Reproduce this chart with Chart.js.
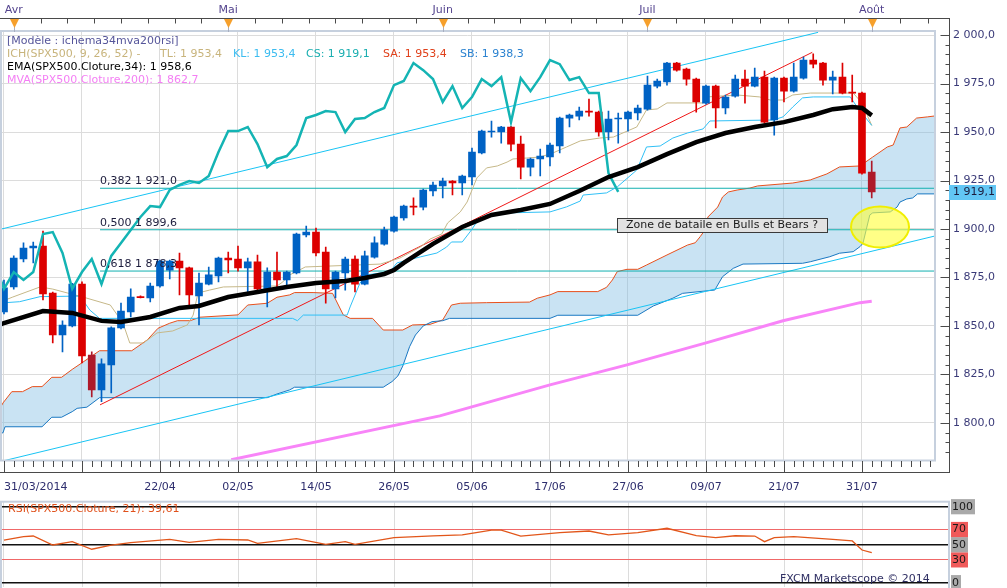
<!DOCTYPE html>
<html>
<head>
<meta charset="utf-8">
<script src="https://cdn.jsdelivr.net/npm/chart.js@4.4.1/dist/chart.umd.min.js"></script>
<style>
html, body { margin: 0; padding: 0; background: #fff; overflow: hidden; }
#main { position: absolute; left: 0; top: 0; width: 1007px; height: 500px; }
#rsi { position: absolute; left: 0; top: 495px; width: 1007px; height: 93px; }
</style>
</head>
<body>
<div id="main"><canvas id="priceCanvas"></canvas></div>
<div id="rsi"><canvas id="rsiCanvas"></canvas></div>
<script>
// trading days, 31/03/2014 -> 01/08/2014
const dates = ['31/03','01/04','02/04','03/04','04/04','07/04','08/04','09/04','10/04','11/04','14/04','15/04','16/04','17/04','18/04','21/04','22/04','23/04','24/04','25/04','28/04','29/04','30/04',
  '01/05','02/05','05/05','06/05','07/05','08/05','09/05','12/05','13/05','14/05','15/05','16/05','19/05','20/05','21/05','22/05','23/05','26/05','27/05','28/05','29/05','30/05',
  '02/06','03/06','04/06','05/06','06/06','09/06','10/06','11/06','12/06','13/06','16/06','17/06','18/06','19/06','20/06','23/06','24/06','25/06','26/06','27/06','30/06',
  '01/07','02/07','03/07','04/07','07/07','08/07','09/07','10/07','11/07','14/07','15/07','16/07','17/07','18/07','21/07','22/07','23/07','24/07','25/07','28/07','29/07','30/07','31/07','01/08'];

const open = [1857.2,1870.1,1884.5,1890.2,1891.2,1867.0,1845.3,1850.0,1871.6,1835.0,1817.0,1829.9,1849.0,1857.2,1865.2,1864.4,1870.6,1878.8,1883.5,1879.9,
  1865.5,1871.6,1875.8,1885.0,1884.5,1879.9,1883.0,1869.1,1877.8,1873.7,1877.3,1896.9,1898.4,1888.1,1869.1,1877.3,1884.5,1871.6,1885.5,1892.2,
  1898.9,1905.7,1911.8,1911.3,1919.6,1922.2,1924.7,1923.7,1926.8,1939.2,1950.0,1950.0,1952.6,1943.8,1931.9,1936.1,1937.1,1942.8,1957.2,1958.2,
  1960.8,1960.3,1950.0,1956.7,1956.7,1959.8,1961.8,1973.7,1975.8,1985.6,1982.5,1977.3,1964.9,1973.7,1962.4,1968.5,1977.3,1973.7,1978.3,1956.2,
  1977.8,1971.1,1977.8,1987.1,1985.6,1976.8,1978.3,1970.6,1970.1,1929.4];
const high = [1873.7,1886.1,1892.8,1893.3,1898.9,1867.5,1852.6,1872.0,1872.7,1836.6,1833.0,1849.5,1861.8,1869.1,1865.5,1872.1,1884.0,1884.0,1887.6,1880.3,
  1877.3,1880.4,1885.5,1888.1,1891.2,1885.0,1886.6,1879.9,1888.1,1878.3,1897.9,1901.5,1900.5,1890.7,1878.3,1885.5,1886.1,1888.6,1895.9,1901.0,
  1906.7,1912.3,1916.0,1920.6,1924.2,1926.3,1925.0,1927.8,1941.7,1951.0,1955.7,1953.0,1953.0,1947.9,1936.5,1941.2,1944.3,1957.7,1959.3,1962.9,
  1967.0,1960.8,1960.8,1959.8,1960.8,1963.9,1978.9,1977.3,1986.0,1986.0,1983.0,1977.8,1974.2,1974.2,1969.1,1979.4,1981.9,1983.0,1981.4,1978.3,
  1978.3,1985.6,1988.7,1990.3,1986.0,1981.4,1985.6,1979.4,1970.6,1935.0];
const low = [1856.2,1869.0,1883.0,1882.5,1863.4,1841.2,1836.6,1849.5,1830.9,1813.4,1811.0,1815.5,1848.5,1854.6,1864.4,1862.4,1870.0,1874.2,1866.0,1860.8,
  1850.5,1871.1,1872.7,1877.3,1878.3,1867.0,1867.5,1859.8,1869.6,1869.6,1876.8,1895.9,1886.1,1861.8,1864.4,1868.5,1867.5,1871.1,1885.0,1891.7,
  1898.4,1904.6,1907.2,1909.8,1917.0,1916.0,1917.5,1917.5,1922.7,1938.7,1947.4,1944.3,1940.2,1925.8,1927.3,1927.3,1932.5,1939.2,1952.6,1956.2,
  1958.2,1947.9,1945.9,1944.3,1950.5,1956.2,1961.3,1972.7,1974.2,1981.4,1974.2,1960.3,1964.4,1952.1,1959.3,1968.0,1964.9,1973.2,1954.6,1948.4,
  1965.5,1970.6,1977.3,1983.0,1974.2,1969.6,1969.6,1965.5,1928.3,1916.0];
const close = [1869.6,1885.0,1890.2,1891.2,1866.5,1845.3,1850.5,1871.6,1834.5,1817.0,1830.4,1849.0,1857.7,1864.9,1864.6,1870.6,1883.5,1883.5,1879.9,1866.0,
  1872.1,1876.3,1885.0,1884.0,1879.9,1883.0,1869.1,1877.8,1873.7,1877.8,1897.4,1898.4,1887.6,1869.1,1877.8,1884.5,1871.6,1886.1,1892.8,1899.5,
  1906.2,1911.8,1911.3,1920.1,1922.7,1924.7,1923.7,1927.3,1939.7,1950.5,1950.5,1952.6,1943.8,1931.9,1936.1,1937.6,1943.3,1957.2,1958.8,1960.8,
  1960.3,1950.0,1956.7,1957.2,1960.3,1962.4,1974.2,1976.3,1985.6,1981.9,1977.3,1965.5,1973.7,1962.4,1968.0,1977.3,1973.7,1978.3,1955.1,1977.8,
  1971.1,1978.3,1987.1,1985.0,1976.8,1978.3,1970.1,1970.1,1928.8,1919.1];

// indicator vertices: [bar index, value]
const ema34 = [[-0.4,1850.6],[0,1851.5],[4,1857.7],[7,1856.7],[10,1852.6],[12,1852.0],[15,1854.6],[18,1859.3],[20,1860.3],[23,1864.9],[26,1867.5],[29,1870.1],
  [32,1872.1],[35,1873.2],[37,1874.7],[39,1876.8],[40,1878.8],[41,1882.5],[44,1892.3],[47,1901.0],[50,1907.2],[53,1909.8],[56,1912.9],[59,1919.6],
  [62,1926.8],[65,1931.9],[68,1938.6],[71,1944.8],[74,1949.5],[77,1952.6],[80,1955.1],[83,1958.8],[85,1961.8],[87,1962.9],[88,1962.4],[89,1958.6]];
const tenkan = [[-0.4,1862.3],[0.9,1864.9],[3.7,1870.1],[5,1869.0],[6.5,1867.0],[8.1,1864.9],[10.9,1860.8],[12.2,1851.5],[12.9,1841.2],[14.3,1841.2],
  [15.7,1846.4],[17.3,1847.4],[18.8,1850.5],[19.4,1855.6],[19.9,1867.0],[21.1,1868.5],[22.5,1870.1],[28,1870.6],[28.6,1872.7],[29.3,1876.3],
  [30.1,1878.3],[30.9,1880.4],[38.6,1881.9],[40.6,1885.0],[42.7,1890.7],[43.7,1894.8],[44.9,1897.4],[45.5,1903.1],[46.8,1908.8],[47.5,1913.9],
  [48,1920.1],[48.5,1926.3],[49.5,1931.5],[50.6,1932.5],[51.6,1934.5],[52.2,1936.1],[53.6,1936.6],[55,1937.1],[56.3,1939.2],[57.7,1942.3],
  [59.1,1945.4],[61.1,1946.9],[62.5,1947.4],[64.9,1952.6],[65.9,1961.4],[67,1961.9],[68,1965.0],[71.7,1965.0],[72.1,1968.1],[75.2,1969.1],
  [77.5,1968.1],[78.6,1966.5],[79.9,1966.5],[80.9,1969.1],[82.7,1970.1],[87.1,1970.1],[88,1965.0],[89,1953.4]];
const kijun = [[-0.4,1861.8],[1.6,1862.5],[3.7,1865.1],[7.8,1865.4],[8.8,1858.2],[9.8,1853.9],[29.6,1853.9],[30.1,1852.7],[30.7,1855.6],[35.2,1855.6],
  [35.5,1859.8],[36.5,1872.0],[37.2,1876.3],[39.6,1878.0],[40.3,1882.5],[42.7,1885.6],[44.4,1887.6],[45.4,1890.7],[45.9,1893.3],[47,1893.3],
  [47.8,1898.5],[48.5,1903.6],[49.5,1907.2],[51.6,1908.3],[56,1908.8],[57.7,1911.4],[59.1,1914.4],[59.4,1917.5],[61.8,1918.6],[62.9,1921.7],
  [64.9,1930.4],[65.9,1942.3],[67.3,1942.8],[68.6,1946.9],[70.1,1949.5],[71.7,1951.6],[72.4,1955.7],[78.9,1956.2],[79.9,1957.8],[80.9,1962.9],
  [81.9,1967.6],[83,1968.1],[86.8,1968.1],[87.5,1962.9],[88.8,1954.7],[89,1953.4]];
const senkouA = [[-0.41,1807.5],[-0.1,1810.3],[0.8,1816.1],[1.9,1816.1],[2.9,1818.7],[3.9,1818.7],[4.9,1823.5],[5.9,1823.5],[7,1827.6],[8,1831.0],
  [9.8,1837.2],[13.1,1837.2],[14.7,1842.8],[15.8,1848.8],[17,1851.4],[17.8,1852.7],[19.1,1852.7],[20.1,1854.5],[24,1855.7],[25,1860.8],
  [27,1861.7],[28,1864.8],[29.3,1866.0],[29.8,1867.2],[31.7,1867.2],[33.7,1866.8],[34.8,1855.7],[35.5,1853.9],[37.8,1853.9],[38.9,1847.9],
  [40.9,1847.9],[41.9,1850.5],[43.7,1850.8],[45,1853.1],[45.9,1860.8],[46.8,1861.7],[49.5,1862.0],[53.9,1862.3],[54.7,1864.3],[56,1866.0],
  [56.8,1867.7],[60.9,1867.7],[61.8,1869.9],[62.4,1873.7],[62.9,1878.0],[63.9,1879.2],[65,1879.2],[65.9,1881.4],[68,1886.6],[70.1,1891.7],
  [70.9,1892.9],[71.4,1896.0],[71.9,1899.5],[72.2,1906.2],[73.2,1911.3],[73.7,1916.5],[74.3,1919.1],[75.2,1920.1],[76.5,1921.1],[77.3,1922.2],
  [80.9,1923.7],[82.7,1925.3],[84.4,1928.4],[85.7,1932.0],[87.8,1932.5],[89.1,1937.1],[90.6,1942.3],[91.2,1943.3],[91.9,1952.1],[92.6,1952.6],
  [93.6,1957.2],[94.7,1957.8],[95.5,1958.3]];
const senkouB = [[-0.41,1794.6],[-0.1,1794.9],[0.1,1798.0],[3.9,1798.0],[4.9,1802.9],[5.9,1802.9],[7,1805.8],[7.5,1807.5],[8.5,1808.1],[9.8,1813.0],
  [27,1813.0],[28,1814.9],[29.3,1817.0],[29.8,1818.4],[38.9,1818.4],[39.8,1821.3],[40.4,1824.2],[40.9,1829.3],[41.6,1839.3],[42.2,1845.3],
  [43,1850.0],[43.9,1852.2],[45,1852.7],[45.7,1853.9],[56,1853.9],[56.8,1855.5],[65,1855.5],[66.6,1860.3],[68.6,1864.3],[69.6,1866.8],
  [71.7,1867.9],[72.9,1868.5],[73.7,1875.4],[74.8,1879.7],[75.8,1881.9],[81.9,1882.3],[82.7,1883.1],[84.7,1885.7],[85.7,1887.5],[87.1,1888.3],
  [87.8,1890.9],[88.1,1892.6],[88.8,1907.2],[89.1,1908.3],[90.9,1908.8],[91.6,1911.3],[91.9,1913.9],[92.6,1915.5],[93.2,1916.0],[93.7,1918.1],
  [95.5,1918.1]];
const mva200 = [[23.3,1781.0],[44.7,1803.6],[56,1819.6],[63.9,1829.9],[72.1,1841.4],[79.9,1852.7],[87.8,1862.0],[89,1862.7]];
const chikouShift = 26;

// drawn lines
const channelHigh = [[-0.41,1899.8],[83.5,2001.4]];
const channelLow = [[-0.41,1780.0],[95.5,1896.4]];
const trendLine = [[9.85,1809.3],[82.9,1991.1]];
const fibStart = 9.85;
const fibLevels = [1921.0, 1899.6, 1878.3];
const fibRatios = ['0,382', '0,500', '0,618'];

const rsi21 = [[0,56],[2,60.5],[3,61.4],[5,49.6],[7,54],[9,44],[11,49.5],[13,52.6],[17,57],[19,53],[22,57],[25,56.2],[26,51.8],[30,57.9],
  [33,50.5],[35,54],[36,50.5],[40,59.2],[44,61.5],[47,62.8],[50,69.3],[51,69.3],[53,61.4],[57,65.8],[60,68],[62,62.8],[65,65.8],[68,71.6],
  [71,61.8],[73,59.2],[75,61.8],[77,61.4],[78,54],[79,59.2],[81,60.5],[85,57],[87,54.9],[88,43],[89,39.61]];

// axes
const priceTicks = [1800, 1825, 1850, 1875, 1900, 1925, 1950, 1975, 2000];
const dateTicks = [0, 16, 24, 32, 40, 48, 56, 64, 72, 80, 88];
const monthNames = ['Avr', 'Mai', 'Juin', 'Juil', 'Août'];
const rsiLevels = [0, 30, 50, 70, 100];
const senkouLegend = { sa: 1953.4, sb: 1938.3 };
const noteText = 'Zone de bataile en Bulls et Bears ?';

// ---------------------------------------------------------------
Chart.defaults.font.family = '"DejaVu Sans", sans-serif';
Chart.defaults.font.size = 11;

const xMin = -0.41, xMax = 95.49;
const fr = (v, d) => {
  const p = v.toFixed(d).split('.');
  return p[0].replace(/\B(?=(\d{3})+(?!\d))/g, ' ') + (d ? ',' + p[1] : '');
};
const xy = a => a.map(p => ({ x: p[0], y: p[1] }));
const noPad = s => { s.paddingLeft = 0; s.paddingRight = 0; s.paddingTop = 0; s.paddingBottom = 0; };
const monthStarts = [];
dates.forEach((d, i) => { if (i > 0 && d.slice(3) !== dates[i - 1].slice(3)) monthStarts.push(i); });

const upColor = '#0062c4', downColor = '#dc0000', darkDown = '#ae1a2a';
const darkCandles = [9, 89];
const candleColor = c => {
  const i = c.dataIndex;
  if (close[i] >= open[i]) return upColor;
  return darkCandles.includes(i) ? darkDown : downColor;
};
const line = (data, color, width, order, extra) => Object.assign({
  type: 'line', data, borderColor: color, borderWidth: width, pointRadius: 0,
  tension: 0, fill: false, order
}, extra || {});

const decor = {
  id: 'decor',
  beforeDraw(chart) {
    const c = chart.ctx;
    c.save(); c.fillStyle = '#fff'; c.fillRect(0, 0, chart.width, chart.height); c.restore();
  },
  afterDatasetsDraw(chart) {
    const c = chart.ctx, xs = chart.scales.x, ys = chart.scales.y;
    c.save();
    c.font = '11px "DejaVu Sans"';
    c.fillStyle = '#1c1c3c';
    fibLevels.forEach((l, k) => {
      c.fillText(fibRatios[k] + ' ' + fr(l, 1), xs.getPixelForValue(fibStart), ys.getPixelForValue(l) - 4);
    });
    // ellipse round the battle zone
    const ex = xs.getPixelForValue(89.85), ey = ys.getPixelForValue(1901.0);
    c.beginPath(); c.ellipse(ex, ey, 29, 20.5, 0, 0, Math.PI * 2);
    c.fillStyle = 'rgba(255,255,60,0.62)'; c.fill();
    c.strokeStyle = '#f0ee00'; c.lineWidth = 2; c.stroke();
    // note box
    const bx = Math.round(xs.getPixelForValue(62.87)), by = Math.round(ys.getPixelForValue(1905.9));
    c.fillStyle = '#e2e2e2'; c.fillRect(bx, by, 210, 14);
    c.strokeStyle = '#3a3a3a'; c.lineWidth = 1; c.strokeRect(bx + 0.5, by + 0.5, 210, 14);
    c.fillStyle = '#1a1a1a'; c.textAlign = 'center'; c.textBaseline = 'middle';
    c.fillText(noteText, bx + 105, by + 7.5, 202);
    c.restore();
  },
  afterDraw(chart) {
    const c = chart.ctx, ca = chart.chartArea, xs = chart.scales.x, ys = chart.scales.y;
    c.save();
    c.strokeStyle = '#c6d0de'; c.lineWidth = 2;
    c.strokeRect(ca.left + 1, ca.top, ca.right - ca.left - 1, ca.bottom - ca.top);

    // top strip
    c.strokeStyle = '#4a4a4a'; c.lineWidth = 1;
    c.beginPath();
    c.moveTo(0, 18.5); c.lineTo(950, 18.5);
    monthStarts.forEach((m, k) => {
      const n = k + 1 < monthStarts.length ? monthStarts[k + 1] : m + (m - monthStarts[k - 1]);
      for (let j = 0; j < 8; j++) {
        const x = Math.round(xs.getPixelForValue(m + (n - m) * j / 8)) + 0.5;
        if (x > 949) break;
        c.moveTo(x, 18.5); c.lineTo(x, 23.5);
      }
    });
    c.stroke();
    monthStarts.forEach(m => {
      const x = Math.round(xs.getPixelForValue(m)) + 0.5;
      c.strokeStyle = '#a8aec0';
      c.beginPath(); c.moveTo(x, 27); c.lineTo(x, 32); c.stroke();
      c.fillStyle = '#f6a02c';
      c.beginPath(); c.moveTo(x - 4.5, 19); c.lineTo(x + 4.5, 19); c.lineTo(x, 28); c.closePath(); c.fill();
    });

    // right axis line and ticks
    c.strokeStyle = '#4a4a4a';
    c.beginPath();
    c.moveTo(949.5, 18.5); c.lineTo(949.5, 473);
    for (let v = 1785; v <= 2000; v += 5) {
      const y = Math.round(ys.getPixelForValue(v)) + 0.5;
      const len = v % 25 === 0 ? 9 : 4;
      c.moveTo(949.5 - len, y); c.lineTo(949.5, y);
    }
    // bottom tick strip
    c.moveTo(0, 472.5); c.lineTo(949.5, 472.5);
    for (let i = 0; i <= 95; i++) {
      const x = Math.round(xs.getPixelForValue(i)) + 0.5;
      const len = i % 8 === 0 ? 12 : 6;
      c.moveTo(x, 461); c.lineTo(x, 461 + len);
    }
    c.stroke();

    // legend block
    c.font = '11px "DejaVu Sans"';
    c.textAlign = 'left'; c.textBaseline = 'alphabetic';
    const last = close.length - 1;
    const rows = [
      ['[Modèle : ichema34mva200rsi]', '#55559a', 7, 43.5],
      ['ICH(SPX500, 9, 26, 52) -', '#c8b47c', 7, 56.5],
      ['TL: ' + fr(tenkan[tenkan.length - 1][1], 1), '#c8b47c', 160, 56.5],
      ['KL: ' + fr(kijun[kijun.length - 1][1], 1), '#3cbcf0', 233, 56.5],
      ['CS: ' + fr(close[last], 1), '#1aaeb0', 306, 56.5],
      ['SA: ' + fr(senkouLegend.sa, 1), '#e0401a', 383, 56.5],
      ['SB: ' + fr(senkouLegend.sb, 1), '#2a82d0', 460, 56.5],
      ['EMA(SPX500.Cloture,34): ' + fr(ema34[ema34.length - 1][1], 1), '#000', 7, 69.5],
      ['MVA(SPX500.Cloture,200): ' + fr(mva200[mva200.length - 1][1], 1), '#f47ff4', 7, 83]
    ];
    rows.forEach(r => { c.fillStyle = r[1]; c.fillText(r[0], r[2], r[3]); });

    // last price tag
    const py = Math.round(ys.getPixelForValue(close[last]));
    c.fillStyle = '#62c6f4'; c.fillRect(949, py - 7, 47, 15);
    c.fillStyle = '#1c1c3c'; c.textBaseline = 'middle';
    c.fillText(fr(close[last], 1), 953, py + 0.5);
    c.restore();
  }
};

new Chart(document.getElementById('priceCanvas'), {
  type: 'bar',
  data: {
    datasets: [
      line(xy(senkouA), '#e8501c', 1, 20, { fill: '+1', backgroundColor: 'rgba(120,185,225,0.4)' }),
      line(xy(senkouB), '#1a78c2', 1, 19),
      line(xy(channelHigh), '#18c4f4', 1, 16),
      line(xy(channelLow), '#18c4f4', 1, 16),
      ...fibLevels.map(l => line([{ x: fibStart, y: l }, { x: xMax, y: l }], '#12b0b0', 1, 15)),
      line(xy(mva200), '#f884f8', 3, 14),
      line(xy(trendLine), '#f01818', 1, 13),
      line(xy(tenkan), '#c6b888', 1, 12),
      line(xy(kijun), '#30c0f6', 1, 11),
      {
        type: 'bar', data: high.map((h, i) => ({ x: i, y: [low[i], h] })),
        backgroundColor: candleColor, barThickness: 1, grouped: false, order: 9
      },
      {
        type: 'bar', data: open.map((o, i) => ({ x: i, y: [o, close[i]] })),
        backgroundColor: candleColor, barThickness: 7, minBarLength: 1, grouped: false, order: 8
      },
      line(close.map((v, i) => ({ x: i - chikouShift, y: v })), '#14b4b4', 2.5, 6),
      line(xy(ema34), '#000', 4.5, 5)
    ]
  },
  options: {
    responsive: true, maintainAspectRatio: false, devicePixelRatio: 1,
    animation: false, events: [],
    layout: { padding: 0 },
    plugins: { legend: { display: false }, tooltip: { enabled: false } },
    scales: {
      x: {
        type: 'linear', position: 'bottom', min: xMin, max: xMax, offset: false,
        afterBuildTicks: s => { s.ticks = Array.from({ length: 96 }, (_, i) => ({ value: i })); },
        afterFit: s => { s.height = 39.5; noPad(s); },
        grid: {
          offset: false,
          color: c => (c.tick && c.tick.value % 8 === 0 && c.tick.value <= 88) ? '#dcdcdc' : 'rgba(0,0,0,0)',
          drawTicks: false
        },
        border: { display: false },
        ticks: {
          autoSkip: false, maxRotation: 0, minRotation: 0, align: 'inner', padding: 20.5, color: '#2e2e6e',
          callback: v => dateTicks.includes(v) ? (v === 0 ? dates[0] + '/2014' : dates[v]) : ''
        }
      },
      xTop: {
        type: 'linear', axis: 'x', position: 'top', min: xMin, max: xMax, offset: false,
        afterBuildTicks: s => { s.ticks = monthStarts.map(v => ({ value: v })); },
        afterFit: s => { s.height = 31; noPad(s); },
        grid: { display: false, offset: false }, border: { display: false },
        ticks: { autoSkip: false, maxRotation: 0, minRotation: 0, padding: 6, color: '#54448e',
          callback: (v, i) => monthNames[i] }
      },
      y: {
        type: 'linear', position: 'right', min: 1780.6, max: 2002.1,
        afterBuildTicks: s => { s.ticks = priceTicks.map(v => ({ value: v })); },
        afterFit: s => { s.width = 72; noPad(s); },
        grid: { color: '#dcdcdc', drawTicks: false },
        border: { display: false },
        ticks: { padding: 18, color: '#3a3a78', callback: v => fr(v, 1) }
      }
    }
  },
  plugins: [decor]
});

// ---------------------------------------------------------------
const rsiDecor = {
  id: 'rsiDecor',
  beforeDraw(chart) {
    const c = chart.ctx;
    c.save(); c.fillStyle = '#fff'; c.fillRect(0, 0, chart.width, chart.height); c.restore();
  },
  afterDraw(chart) {
    const c = chart.ctx, ca = chart.chartArea;
    c.save();
    c.strokeStyle = '#c6d0de'; c.lineWidth = 2;
    c.strokeRect(ca.left + 1, ca.top, ca.right - ca.left - 1, ca.bottom - ca.top + 2);
    c.font = '11px "DejaVu Sans"'; c.textBaseline = 'middle'; c.textAlign = 'left';
    c.fillStyle = '#e0501a';
    c.fillText('RSI(SPX500.Cloture, 21): ' + fr(rsi21[rsi21.length - 1][1], 2), 8, 14, 184);
    c.fillStyle = '#303064';
    c.fillText('FXCM Marketscope © 2014', 780, 84, 155);
    c.restore();
  }
};

new Chart(document.getElementById('rsiCanvas'), {
  type: 'line',
  data: {
    datasets: [{ data: xy(rsi21), borderColor: '#e2561a', borderWidth: 1.3, pointRadius: 0, tension: 0, fill: false }]
  },
  options: {
    responsive: true, maintainAspectRatio: false, devicePixelRatio: 1,
    animation: false, events: [],
    layout: { padding: { top: 6.7, bottom: 1, left: 0, right: 0 } },
    plugins: { legend: { display: false }, tooltip: { enabled: false } },
    scales: {
      x: {
        type: 'linear', min: xMin, max: 96.92, offset: false,
        afterBuildTicks: s => { s.ticks = Array.from({ length: 12 }, (_, k) => ({ value: k * 8 })); },
        afterFit: s => { s.height = 0; noPad(s); },
        ticks: { display: false },
        grid: { color: '#dcdcdc', drawTicks: false, offset: false },
        border: { display: false }
      },
      y: {
        type: 'linear', position: 'right', min: -5.7, max: 106.6,
        afterBuildTicks: s => { s.ticks = rsiLevels.map(v => ({ value: v })); },
        afterFit: s => { s.width = 58; noPad(s); },
        grid: {
          color: c => (c.tick.value === 30 || c.tick.value === 70) ? '#f06868' : '#111',
          lineWidth: c => (c.tick.value === 30 || c.tick.value === 70) ? 1 : 1.5,
          drawTicks: false
        },
        border: { display: false },
        ticks: {
          padding: 3, color: '#1a1a1a', showLabelBackdrop: true,
          backdropColor: c => (c.tick.value === 30 || c.tick.value === 70) ? '#f05a5a' : '#a9a9a9',
          backdropPadding: { top: 1, bottom: 1, left: 1, right: 2 },
          callback: v => String(v)
        }
      }
    }
  },
  plugins: [rsiDecor]
});
</script>
</body>
</html>
